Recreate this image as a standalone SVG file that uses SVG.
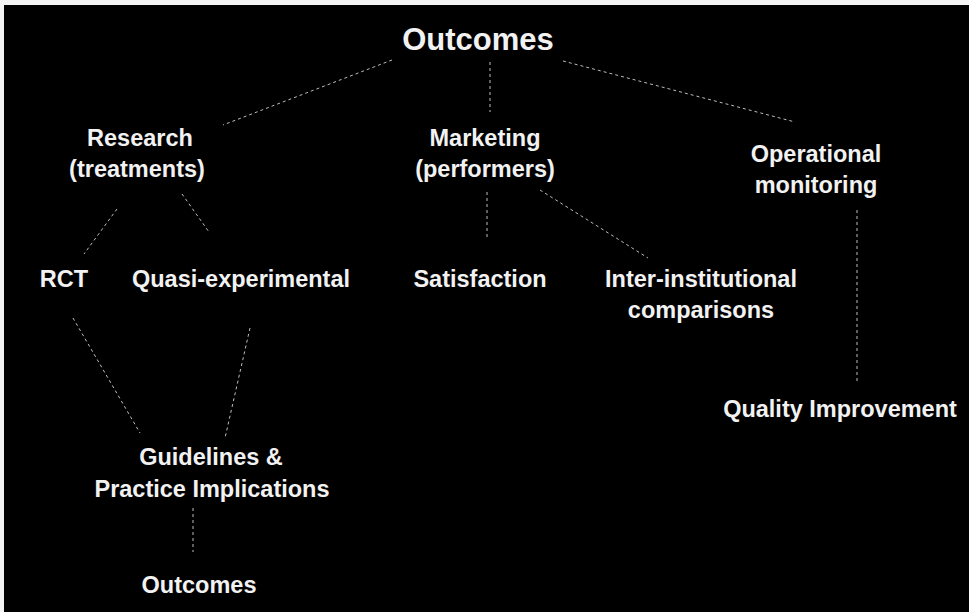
<svg xmlns="http://www.w3.org/2000/svg" width="969" height="612" viewBox="0 0 969 612">
  <style>
    .lbl { font-family: "Liberation Sans", Arial, sans-serif; font-weight: bold; font-size: 23.5px; fill: #f2f2f2; text-anchor: middle; }
    .top { font-size: 31px; }
    .conn line { stroke: #bdbdbd; stroke-width: 1; stroke-dasharray: 3 3; fill: none; }
  </style>
  <rect x="0" y="0" width="969" height="612" fill="#f4f4f4"/>
  <rect x="4" y="5" width="965" height="607" fill="#000"/>

  <g id="connectors" class="conn">
    <line x1="392" y1="60" x2="223" y2="125"/>
    <line x1="490" y1="62" x2="490" y2="112"/>
    <line x1="563" y1="61" x2="795" y2="122"/>
    <line x1="117" y1="209" x2="84" y2="254"/>
    <line x1="182" y1="194" x2="209" y2="232"/>
    <line x1="487" y1="192" x2="487" y2="238"/>
    <line x1="540" y1="190" x2="648" y2="258"/>
    <line x1="857" y1="210" x2="857" y2="382"/>
    <line x1="73" y1="318" x2="140" y2="433"/>
    <line x1="250" y1="328" x2="225" y2="438"/>
    <line x1="193" y1="508" x2="193" y2="552"/>
  </g>

  <g id="outcomes-top"><text class="lbl top" x="478" y="50">Outcomes</text></g>
  <g id="research">
    <text class="lbl" x="140" y="146">Research</text>
    <text class="lbl" x="137" y="177">(treatments)</text>
  </g>
  <g id="marketing">
    <text class="lbl" x="485" y="146">Marketing</text>
    <text class="lbl" x="485" y="177">(performers)</text>
  </g>
  <g id="operational">
    <text class="lbl" x="816" y="162">Operational</text>
    <text class="lbl" x="816" y="193">monitoring</text>
  </g>
  <g id="rct"><text class="lbl" x="64" y="287">RCT</text></g>
  <g id="quasi"><text class="lbl" x="241" y="287">Quasi-experimental</text></g>
  <g id="satisfaction"><text class="lbl" x="480" y="287">Satisfaction</text></g>
  <g id="inter">
    <text class="lbl" x="701" y="287">Inter-institutional</text>
    <text class="lbl" x="701" y="318">comparisons</text>
  </g>
  <g id="quality"><text class="lbl" x="840" y="417">Quality Improvement</text></g>
  <g id="guidelines">
    <text class="lbl" x="211" y="465">Guidelines &amp;</text>
    <text class="lbl" x="212" y="497">Practice Implications</text>
  </g>
  <g id="outcomes-bottom"><text class="lbl" x="199" y="593">Outcomes</text></g>
</svg>
